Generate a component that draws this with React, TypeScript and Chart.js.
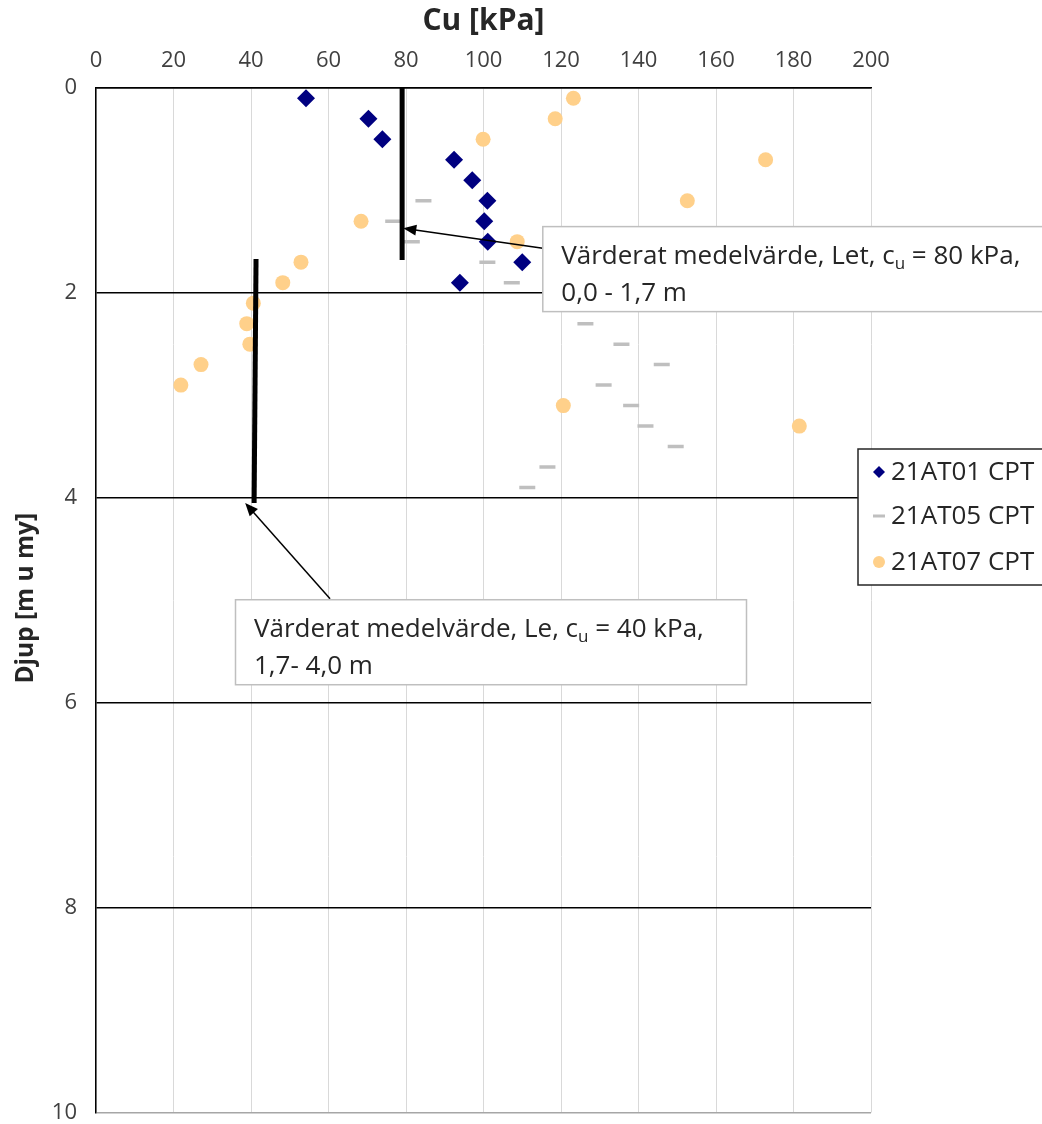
import React, { useEffect, useRef } from 'react';
import { Chart, registerables } from 'chart.js';

Chart.register(...registerables);

// ---- Data ----
const xTitle = 'Cu [kPa]';
const yTitle = 'Djup [m u my]';
const xTicks = [0, 20, 40, 60, 80, 100, 120, 140, 160, 180, 200];
const yTicks = [0, 2, 4, 6, 8, 10];

const seriesNames = ['21AT01 CPT', '21AT05 CPT', '21AT07 CPT'];

const at01Cu = [54.2, 70.3, 73.9, 92.4, 97.1, 101.0, 100.2, 101.1, 110.0, 93.9];
const at01Depth = [0.1, 0.3, 0.5, 0.7, 0.9, 1.1, 1.3, 1.5, 1.7, 1.9];

const at05Cu = [84.5, 76.7, 81.5, 101.0, 107.3, 126.3, 135.6, 146.0, 131.0, 138.1, 141.8, 149.6, 116.5, 111.3];
const at05Depth = [1.1, 1.3, 1.5, 1.7, 1.9, 2.3, 2.5, 2.7, 2.9, 3.1, 3.3, 3.5, 3.7, 3.9];

const at07Cu = [123.2, 118.5, 99.9, 172.8, 152.6, 68.4, 108.7, 52.9, 48.2, 40.6, 38.9, 39.7, 27.1, 21.9, 120.6, 181.5];
const at07Depth = [0.1, 0.3, 0.5, 0.7, 1.1, 1.3, 1.5, 1.7, 1.9, 2.1, 2.3, 2.5, 2.7, 2.9, 3.1, 3.3];

// valued mean lines
const letCu = [79.0, 79.0];
const letDepth = [0.0, 1.68];
const leCu = [41.3, 40.8];
const leDepth = [1.67, 4.05];

// annotation texts / anchors (data units)
const annLine1 = [
  ['Värderat medelvärde, Let, c', 'u', ' = 80 kPa,'],
  ['Värderat medelvärde, Le, c', 'u', ' = 40 kPa,'],
];
const annLine2 = ['0,0 - 1,7 m', '1,7- 4,0 m'];
const annBoxX = [115.3, 36.0];
const annBoxY = [1.353, 4.995];
const annTailX = [115.3, 60.4];
const annTailY = [1.564, 4.985];
const annTipX = [79.3, 38.5];
const annTipY = [1.369, 4.05];
const annBoxW = [530, 511];

const FONT = '"Open Sans", "Noto Sans", sans-serif';
const DIAMOND = '#000080';
const DASH = '#bfbfbf';
const DOT = '#ffd08a';

const toPts = (xs: number[], ys: number[]) => xs.map((x, i) => ({ x, y: ys[i] }));

function drawArrow(ctx: CanvasRenderingContext2D, x1: number, y1: number, x2: number, y2: number) {
  const ang = Math.atan2(y2 - y1, x2 - x1);
  const head = 13;
  const hw = 5.5;
  ctx.strokeStyle = '#000';
  ctx.fillStyle = '#000';
  ctx.lineWidth = 1.5;
  ctx.beginPath();
  ctx.moveTo(x1, y1);
  ctx.lineTo(x2 - Math.cos(ang) * head * 0.8, y2 - Math.sin(ang) * head * 0.8);
  ctx.stroke();
  ctx.beginPath();
  ctx.moveTo(x2, y2);
  ctx.lineTo(x2 - Math.cos(ang) * head - Math.sin(ang) * hw, y2 - Math.sin(ang) * head + Math.cos(ang) * hw);
  ctx.lineTo(x2 - Math.cos(ang) * head + Math.sin(ang) * hw, y2 - Math.sin(ang) * head - Math.cos(ang) * hw);
  ctx.closePath();
  ctx.fill();
}

const overlayPlugin = {
  id: 'overlay',
  afterDraw(chart: any) {
    const { ctx, scales, chartArea } = chart;
    const xs = scales.x;
    const ys = scales.y;
    ctx.save();

    // axis titles
    ctx.fillStyle = '#262626';
    ctx.textAlign = 'center';
    ctx.textBaseline = 'middle';
    ctx.font = `bold 30px ${FONT}`;
    ctx.fillText(xTitle, (chartArea.left + chartArea.right) / 2, 21);
    ctx.save();
    ctx.translate(26, (chartArea.top + chartArea.bottom) / 2 - 2);
    ctx.rotate(-Math.PI / 2);
    ctx.font = `bold 24.5px ${FONT}`;
    ctx.fillText(yTitle, 0, 0);
    ctx.restore();

    // annotations
    for (let i = 0; i < annLine1.length; i++) {
      const tipX = xs.getPixelForValue(annTipX[i]);
      const tipY = ys.getPixelForValue(annTipY[i]);
      const tailX = xs.getPixelForValue(annTailX[i]);
      const tailY = ys.getPixelForValue(annTailY[i]);
      drawArrow(ctx, tailX, tailY, tipX, tipY);

      const bx = xs.getPixelForValue(annBoxX[i]);
      const by = ys.getPixelForValue(annBoxY[i]);
      const bw = annBoxW[i];
      const bh = 85;
      ctx.fillStyle = '#fff';
      ctx.fillRect(bx, by, bw, bh);
      ctx.strokeStyle = '#bfbfbf';
      ctx.lineWidth = 1.5;
      ctx.strokeRect(bx, by, bw, bh);

      ctx.fillStyle = '#262626';
      ctx.textAlign = 'left';
      ctx.textBaseline = 'alphabetic';
      let tx = bx + 18.5;
      const base1 = by + 37;
      const [a, sub, b] = annLine1[i];
      ctx.font = `26px ${FONT}`;
      ctx.fillText(a, tx, base1);
      tx += ctx.measureText(a).width;
      ctx.font = `17px ${FONT}`;
      ctx.fillText(sub, tx, base1 + 5);
      tx += ctx.measureText(sub).width;
      ctx.font = `26px ${FONT}`;
      ctx.fillText(b, tx, base1);
      ctx.fillText(annLine2[i], bx + 18.5, by + 74);
    }

    // legend
    const lx = chartArea.right - 13;
    const ly = 449;
    ctx.fillStyle = '#fff';
    ctx.fillRect(lx, ly, 220, 136);
    ctx.strokeStyle = '#262626';
    ctx.lineWidth = 1.5;
    ctx.strokeRect(lx, ly, 220, 136);
    const rows = [ly + 23, ly + 67, ly + 113];
    const mx = lx + 21;
    // diamond
    ctx.fillStyle = DIAMOND;
    ctx.beginPath();
    ctx.moveTo(mx, rows[0] - 6);
    ctx.lineTo(mx + 6, rows[0]);
    ctx.lineTo(mx, rows[0] + 6);
    ctx.lineTo(mx - 6, rows[0]);
    ctx.closePath();
    ctx.fill();
    // dash
    ctx.strokeStyle = DASH;
    ctx.lineWidth = 3;
    ctx.beginPath();
    ctx.moveTo(mx - 6, rows[1]);
    ctx.lineTo(mx + 6, rows[1]);
    ctx.stroke();
    // dot
    ctx.fillStyle = DOT;
    ctx.beginPath();
    ctx.arc(mx, rows[2], 6, 0, Math.PI * 2);
    ctx.fill();
    ctx.fillStyle = '#262626';
    ctx.font = `26px ${FONT}`;
    ctx.textAlign = 'left';
    ctx.textBaseline = 'middle';
    seriesNames.forEach((n, i) => ctx.fillText(n, mx + 12, rows[i] + 1));

    ctx.restore();
  },
};

export default function App() {
  const ref = useRef<HTMLCanvasElement | null>(null);
  useEffect(() => {
    if (!ref.current) return;
    const chart = new Chart(ref.current, {
      type: 'scatter',
      data: {
        datasets: [
          {
            label: 'Let',
            type: 'line',
            data: toPts(letCu, letDepth),
            borderColor: '#000',
            borderWidth: 5,
            pointRadius: 0,
            showLine: true,
            order: 0,
          } as any,
          {
            label: 'Le',
            type: 'line',
            data: toPts(leCu, leDepth),
            borderColor: '#000',
            borderWidth: 5,
            pointRadius: 0,
            showLine: true,
            order: 0,
          } as any,
          {
            label: seriesNames[0],
            data: toPts(at01Cu, at01Depth),
            pointStyle: 'rectRot',
            pointRadius: 9,
            backgroundColor: DIAMOND,
            borderColor: DIAMOND,
            borderWidth: 0,
            order: 3,
          },
          {
            label: seriesNames[1],
            data: toPts(at05Cu, at05Depth),
            pointStyle: 'line',
            pointRadius: 8,
            borderColor: DASH,
            backgroundColor: DASH,
            borderWidth: 3.5,
            order: 2,
          },
          {
            label: seriesNames[2],
            data: toPts(at07Cu, at07Depth),
            pointStyle: 'circle',
            pointRadius: 7.5,
            backgroundColor: DOT,
            borderColor: DOT,
            borderWidth: 0,
            order: 1,
          },
        ],
      },
      options: {
        responsive: false,
        animation: false,
        devicePixelRatio: 1,
        layout: { padding: { left: 0, top: 0, right: 171, bottom: 11 } },
        plugins: { legend: { display: false }, tooltip: { enabled: false } },
        scales: {
          x: {
            type: 'linear',
            position: 'top',
            min: 0,
            max: 200,
            afterBuildTicks: (s: any) => { s.ticks = xTicks.map((v) => ({ value: v })); },
            ticks: { autoSkip: false, maxRotation: 0, padding: 14, color: '#404040', font: { family: FONT, size: 22 } },
            grid: { color: '#d9d9d9', lineWidth: 1, drawTicks: false },
            border: { display: true, color: '#000', width: 1.5 },
            afterFit: (s: any) => { s.height = 88; s.paddingLeft = 0; s.paddingRight = 0; },
          },
          y: {
            type: 'linear',
            reverse: true,
            min: 0,
            max: 10,
            afterBuildTicks: (s: any) => { s.ticks = yTicks.map((v) => ({ value: v })); },
            ticks: { autoSkip: false, padding: 19, color: '#404040', font: { family: FONT, size: 22 } },
            grid: {
              color: (c: any) => (c.tick && c.tick.value === 10 ? '#a6a6a6' : '#000'),
              lineWidth: 1.5,
              drawTicks: false,
            },
            border: { display: true, color: '#000', width: 1.5 },
            afterFit: (s: any) => { s.width = 96; s.paddingTop = 0; s.paddingBottom = 0; },
          },
        },
      } as any,
      plugins: [overlayPlugin],
    });
    return () => chart.destroy();
  }, []);

  return (
    <div style={{ position: 'absolute', left: 0, top: 0, width: 1042, height: 1124, background: '#fff' }}>
      <canvas ref={ref} width={1042} height={1124} style={{ display: 'block' }} />
    </div>
  );
}
